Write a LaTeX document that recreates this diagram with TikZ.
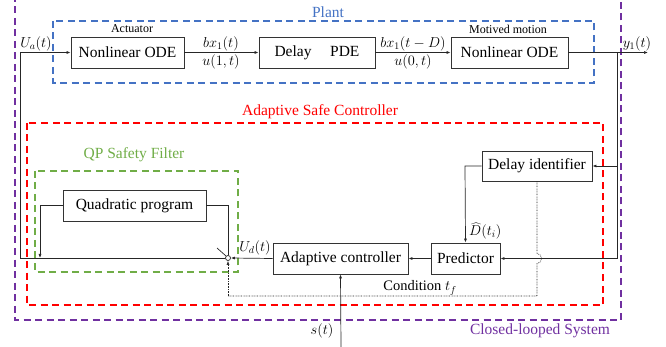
\documentclass[tikz,border=0pt]{standalone}
\usepackage{fontspec}
\setmainfont{Liberation Serif}
\usetikzlibrary{arrows.meta}
\definecolor{plantblue}{HTML}{4472C4}
\definecolor{ctrlred}{HTML}{FF0000}
\definecolor{qpgreen}{HTML}{70AD47}
\definecolor{loopviolet}{HTML}{7030A0}
\begin{document}
\begin{tikzpicture}[x=1pt,y=-1pt,
  blk/.style={draw=black!80,line width=0.8pt,fill=white,inner sep=0pt,font=\fontsize{15.5}{16}\selectfont},
  capt/.style={inner sep=0pt,font=\fontsize{12}{13}\selectfont},
  lab/.style={inner sep=0pt,font=\fontsize{14.5}{15}\selectfont},
  grp/.style={line width=1.2pt,dash pattern=on 7pt off 4.5pt},
  wire/.style={line width=0.7pt,draw=black!85},
  arr/.style={wire,-{Latex[length=4pt,width=3pt]}},
  dotw/.style={line width=0.6pt,draw=black!85,dash pattern=on 0.7pt off 0.9pt}]
\useasboundingbox (0,0) rectangle (666,347);
% group frames
\draw[grp,loopviolet] (15,-5) rectangle (621,320);
\draw[grp,plantblue] (53,21) rectangle (594,83);
\draw[grp,ctrlred] (27,123) rectangle (603,305);
\draw[grp,qpgreen] (35,171) rectangle (238,272);
\node[inner sep=0pt,text=plantblue,font=\fontsize{15.5}{16}\selectfont] (tplant) at (328,12) {Plant};
\node[inner sep=0pt,text=ctrlred,font=\fontsize{15.5}{16}\selectfont] (tctrl) at (320,112) {Adaptive Safe Controller};
\node[inner sep=0pt,text=qpgreen,font=\fontsize{15.5}{16}\selectfont] (tqp) at (134,155) {QP Safety Filter};
\node[inner sep=0pt,text=loopviolet,font=\fontsize{15.5}{16}\selectfont] (tloop) at (540,331) {Closed-looped System};
% blocks
\node[blk,minimum width=113pt,minimum height=31pt] (ode1) at (127.5,52.5) {Nonlinear ODE};
\node[blk,minimum width=116pt,minimum height=31pt] (pde) at (317,52.5) {Delay\hspace{1.2em}PDE};
\node[blk,minimum width=117pt,minimum height=31pt] (ode2) at (509.5,52.5) {Nonlinear ODE};
\node[blk,minimum width=143pt,minimum height=31pt] (qp) at (134.5,205.5) {Quadratic program};
\node[blk,minimum width=110pt,minimum height=30pt] (did) at (537,166) {Delay identifier};
\node[blk,minimum width=135pt,minimum height=31pt] (ac) at (340.5,258.5) {Adaptive controller};
\node[blk,minimum width=69pt,minimum height=31pt] (pred) at (465.5,258.5) {Predictor};
\node[capt] (tact) at (132,29) {Actuator};
\node[capt] (tmot) at (508,29) {Motived motion};
% coordinates
\coordinate (inl) at (20,52.5);
\coordinate (inb) at (20,258);
\coordinate (sw) at (228,258);
\coordinate (ql) at (40,205.5);
\coordinate (qlb) at (40,258);
\coordinate (qr) at (228,205.5);
\coordinate (out) at (648,52.5);
\coordinate (br) at (617,52.5);
\coordinate (brd) at (617,166);
\coordinate (brp) at (617,258.5);
\coordinate (dl) at (465,166);
\coordinate (sin) at (341,347);
\coordinate (dj1) at (537,253.5);
\coordinate (dj2) at (537,263.5);
\coordinate (dc) at (537,296);
\coordinate (dcl) at (228,296);
\coordinate (lv1) at (217,248);
\coordinate (lv2) at (226,256);
% plant chain
\draw[arr] (inb) -- (inl) -- (ode1.west);
\draw[arr] (ode1.east) -- (pde.west);
\draw[arr] (pde.east) -- (ode2.west);
\draw[arr] (ode2.east) -- (out);
\node[lab] (tb1) at (221,44) {$bx_1(t)$};
\node[lab] (tu1) at (221,62) {$u(1,t)$};
\node[lab] (tb2) at (413,44) {$bx_1(t-D)$};
\node[lab] (tu0) at (413,62) {$u(0,t)$};
\node[lab] (tua) at (36,44) {$U_a(t)$};
\node[lab] (ty) at (637,44) {$y_1(t)$};
% feedback
\draw[wire] (br) -- (brp);
\draw[arr] (brp) -- (pred.east);
\draw[arr] (brd) -- (did.east);
\draw[arr] (did.west) -- (dl) -- (pred.north);
\node[lab,anchor=west] (tdh) at (469,231) {$\widehat{D}(t_i)$};
\draw[arr] (pred.west) -- (ac.east);
% switch
\node[draw=black!85,circle,line width=0.7pt,inner sep=0pt,minimum size=5pt,fill=white] (swc) at (sw) {};
\draw[wire] (swc.west) -- (inb);
\draw[wire] (lv1) -- (lv2);
\draw[wire] (qp.east) -- (qr) -- (swc.north);
\draw[arr] (qp.west) -- (ql) -- (qlb);
\draw[arr] (ac.west) -- (swc.east);
\node[lab] (tud) at (255,248) {$U_d(t)$};
% s(t)
\draw[arr] (sin) -- (ac.south);
\node[lab] (ts) at (322,331) {$s(t)$};
% dotted condition
\draw[dotw] (did.south) -- (dj1) .. controls (543,253.5) and (543,263.5) .. (dj2) -- (dc) -- (dcl);
\draw[dotw,-{Latex[length=4pt,width=3pt]}] (dcl) -- (swc.south);
\node[lab] (tcond) at (420,288) {Condition $t_f$};
\end{tikzpicture}
\end{document}
